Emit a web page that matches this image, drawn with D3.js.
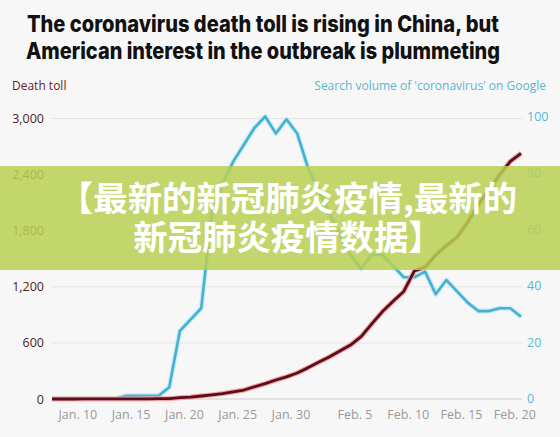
<!DOCTYPE html>
<html><head><meta charset="utf-8">
<script src="https://cdn.jsdelivr.net/npm/d3@7"></script>
<style>html,body{margin:0;padding:0;background:#f7f7f7;} svg{display:block;}</style>
</head><body>
<svg id="chart" width="560" height="437"></svg>
<script>
// ---- data ----
const dates = [
  "2020-01-08","2020-01-09","2020-01-10","2020-01-11","2020-01-12","2020-01-13","2020-01-14","2020-01-15",
  "2020-01-16","2020-01-17","2020-01-18","2020-01-19","2020-01-20","2020-01-21","2020-01-22","2020-01-23",
  "2020-01-24","2020-01-25","2020-01-26","2020-01-27","2020-01-28","2020-01-29","2020-01-30","2020-01-31",
  "2020-02-01","2020-02-02","2020-02-03","2020-02-04","2020-02-05","2020-02-06","2020-02-07","2020-02-08",
  "2020-02-09","2020-02-10","2020-02-11","2020-02-12","2020-02-13","2020-02-14","2020-02-15","2020-02-16",
  "2020-02-17","2020-02-18","2020-02-19","2020-02-20","2020-02-21"
];
const deathToll = [
  0, 0, 0, 1, 1, 1, 1, 1,
  1, 2, 3, 4, 14, 21, 32, 44,
  58, 77, 96, 131, 164, 203, 237, 278,
  333, 392, 449, 513, 577, 668, 804, 935,
  1045, 1150, 1370, 1410, 1540, 1640, 1730, 1890,
  2077, 2243, 2398, 2542, 2627
];
const searchVolume = [
  0, 0, 0, 0, 0, 0, 0, 1,
  1, 1, 1, 4, 24, 28, 32, 66,
  76, 84, 90, 96, 100, 94, 99, 94,
  82, 74, 66, 58, 51, 46, 51, 51,
  47, 43, 43, 45, 37, 42, 38, 34,
  31, 31, 32, 32, 29
];
const leftTicks = [0, 600, 1200, 1800, 2400, 3000];
const rightTicks = [0, 20, 40, 60, 80, 100];
const xTickDates = ["2020-01-10","2020-01-15","2020-01-20","2020-01-25","2020-01-30","2020-02-05","2020-02-10","2020-02-15","2020-02-20"];
const xTickLabels = ["Jan. 10","Jan. 15","Jan. 20","Jan. 25","Jan. 30","Feb. 5","Feb. 10","Feb. 15","Feb. 20"];
const titleLines = ["The coronavirus death toll is rising in China, but","American interest in the outbreak is plummeting"];
const leftAxisTitle = "Death toll";
const rightAxisTitle = "Search volume of 'coronavirus' on Google";
const overlayLines = ["【最新的新冠肺炎疫情,最新的","新冠肺炎疫情数据】"];

// ---- chart ----
const parse = d3.timeParse("%Y-%m-%d");
const svg = d3.select("#chart");
svg.append("rect").attr("width",560).attr("height",437).attr("fill","#f7f7f7");

const x = d3.scaleTime().domain([parse(dates[0]), parse(dates[dates.length-1])]).range([52, 521]);
const yL = d3.scaleLinear().domain([0, 3000]).range([399, 118.5]);
const yR = d3.scaleLinear().domain([0, 100]).range([398.5, 116.5]);
const labelFont = "'Open Sans', 'DejaVu Sans', sans-serif";

// title
const titleWidths = [472, 474];
titleLines.forEach((t, i) => {
  svg.append("text").attr("x", 263).attr("y", 32 + i*27)
    .attr("text-anchor","middle").attr("font-family","Inter, 'Liberation Sans', sans-serif")
    .attr("font-weight",800).attr("font-size",22.5).attr("fill","#111")
    .attr("textLength", titleWidths[i]).attr("lengthAdjust","spacingAndGlyphs").text(t);
});

// gridlines
svg.append("g").selectAll("line").data(leftTicks).join("line")
  .attr("x1", 52).attr("x2", 522)
  .attr("y1", d => yL(d)).attr("y2", d => yL(d))
  .attr("stroke", d => d === 0 ? "#cfcfcf" : "#e4e4e4").attr("stroke-width", 1);

// axes
const axL = svg.append("g").attr("transform","translate(52,0)")
  .call(d3.axisLeft(yL).tickValues(leftTicks).tickFormat(d3.format(",")).tickSize(0).tickPadding(8));
axL.select(".domain").remove();
axL.selectAll("text").attr("font-family",labelFont).attr("font-size",12.5).attr("fill","#4e2226");

const axR = svg.append("g").attr("transform","translate(522,0)")
  .call(d3.axisRight(yR).tickValues(rightTicks).tickSize(0).tickPadding(5));
axR.select(".domain").remove();
axR.selectAll("text").attr("font-family",labelFont).attr("font-size",12.5).attr("fill","#58b6d2");

const axB = svg.append("g").attr("transform","translate(0,400)")
  .call(d3.axisBottom(x).tickValues(xTickDates.map(parse)).tickFormat((d,i)=>xTickLabels[i]).tickSize(0).tickPadding(10));
axB.select(".domain").remove();
axB.selectAll("text").attr("font-family",labelFont).attr("font-size",12.5).attr("fill","#999").attr("dx",4);

svg.append("text").attr("x",12).attr("y",90).attr("font-family",labelFont).attr("font-size",12)
  .attr("fill","#6a1e2a").text(leftAxisTitle);
svg.append("text").attr("x",546).attr("y",90).attr("text-anchor","end").attr("font-family",labelFont).attr("font-size",12)
  .attr("fill","#58b6d2").text(rightAxisTitle);

// lines
const blueLine = d3.line().x((d,i)=>x(parse(dates[i]))).y(d=>yR(d));
const redLine = d3.line().x((d,i)=>x(parse(dates[i]))).y(d=>yL(d));
svg.append("path").datum(searchVolume).attr("d", blueLine).attr("fill","none")
  .attr("stroke","#c9ecf6").attr("stroke-width",5).attr("stroke-linejoin","round");
svg.append("path").datum(searchVolume).attr("d", blueLine).attr("fill","none")
  .attr("stroke","#45b1d2").attr("stroke-width",2.6).attr("stroke-linejoin","round");
svg.append("path").datum(deathToll).attr("d", redLine).attr("fill","none")
  .attr("stroke","#f2a4a6").attr("stroke-width",5).attr("stroke-linejoin","round");
svg.append("path").datum(deathToll).attr("d", redLine).attr("fill","none")
  .attr("stroke","#5d0c1a").attr("stroke-width",2.8).attr("stroke-linejoin","round");

// overlay banner
svg.append("rect").attr("x",0).attr("y",166).attr("width",560).attr("height",104)
  .attr("fill","rgb(184,208,84)").attr("opacity",0.85);
const banner = svg.append("text").attr("text-anchor","middle")
  .attr("font-family","'Noto Sans CJK SC', sans-serif").attr("font-weight",700)
  .attr("font-size",34.4).attr("fill","#fff");
overlayLines.forEach((t,i)=>{
  banner.append("tspan").attr("x",288).attr("y",211 + i*39).text(t);
});
</script>
</body></html>
